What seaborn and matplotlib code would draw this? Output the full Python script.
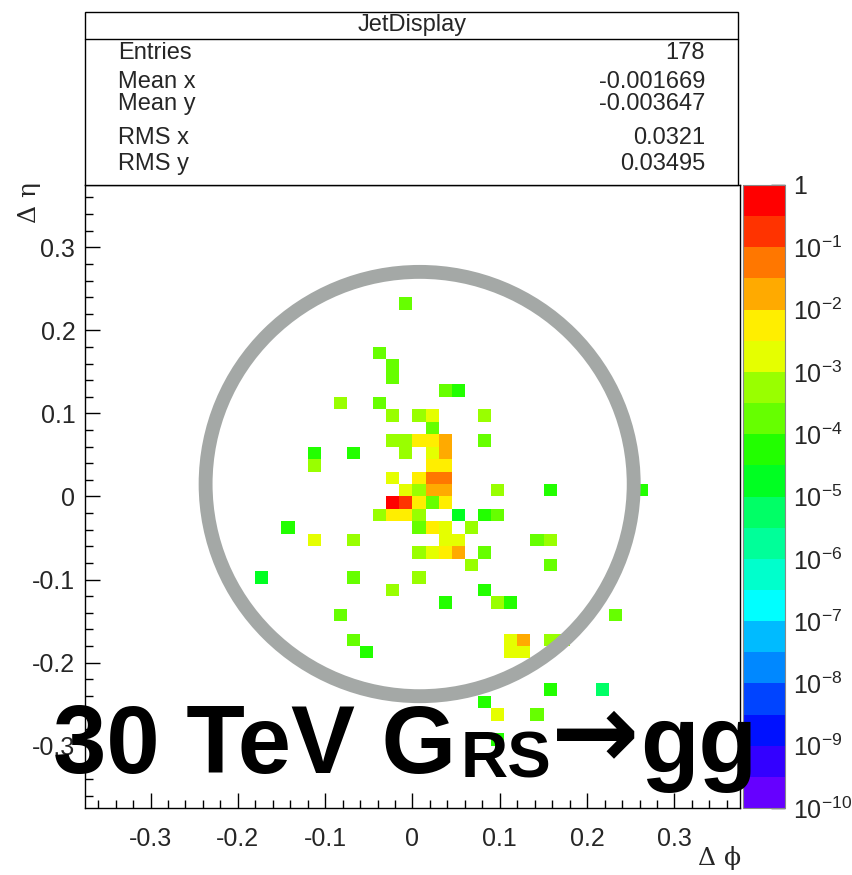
import numpy as np
import pandas as pd
import matplotlib
matplotlib.use("Agg")
import matplotlib.pyplot as plt
import seaborn as sns
from matplotlib.colors import ListedColormap
from matplotlib.patches import Ellipse, Rectangle
from matplotlib.lines import Line2D
from matplotlib.ticker import FixedLocator, FixedFormatter, MultipleLocator, LogLocator, NullFormatter

# ---------------- data ----------------
eta_rows = [0.2325, 0.1725, 0.1575, 0.1425, 0.1275, 0.1125, 0.0975, 0.0825, 0.0675,
            0.0525, 0.0375, 0.0225, 0.0075, -0.0075, -0.0225, -0.0375, -0.0525,
            -0.0675, -0.0825, -0.0975, -0.1125, -0.1275, -0.1425, -0.1725, -0.1875,
            -0.2325, -0.2475, -0.2625, -0.2925]

phi_by_row = [
    [-0.0075],
    [-0.0375],
    [-0.0225],
    [-0.0225],
    [0.0375, 0.0525],
    [-0.0825, -0.0375],
    [-0.0225, 0.0075, 0.0225, 0.0825],
    [0.0225],
    [-0.0225, -0.0075, 0.0075, 0.0225, 0.0375, 0.0825],
    [-0.1125, -0.0675, -0.0075, 0.0225, 0.0375],
    [-0.1125, 0.0225, 0.0375],
    [-0.0225, 0.0075, 0.0225, 0.0375],
    [-0.0075, 0.0075, 0.0225, 0.0375, 0.0975, 0.1575, 0.2625],
    [-0.0225, -0.0075, 0.0075, 0.0225, 0.0375],
    [-0.0375, -0.0225, -0.0075, 0.0075, 0.0525, 0.0825, 0.0975],
    [-0.1425, 0.0075, 0.0225, 0.0375, 0.0675],
    [-0.1125, -0.0675, 0.0375, 0.0525, 0.1425, 0.1575],
    [0.0075, 0.0225, 0.0375, 0.0525, 0.0825],
    [0.0675, 0.1575],
    [-0.1725, -0.0675, 0.0075],
    [-0.0225, 0.0825],
    [0.0375, 0.0975, 0.1125],
    [-0.0825, 0.2325],
    [-0.0675, 0.1125, 0.1275, 0.1575, 0.1725],
    [-0.0525, 0.1125, 0.1275],
    [0.1575, 0.2175],
    [0.0825],
    [0.0975, 0.1425],
    [0.0975],
]

frac_by_row = [
    [1.8e-4],
    [1.8e-4],
    [1.8e-4],
    [1.8e-4],
    [1.8e-4, 5.6e-5],
    [5.6e-4, 1.8e-4],
    [5.6e-4, 5.6e-4, 1.8e-3, 5.6e-4],
    [1.8e-4],
    [5.6e-4, 5.6e-4, 5.6e-3, 5.6e-3, 1.8e-2, 1.8e-4],
    [5.6e-5, 5.6e-5, 5.6e-4, 1.8e-3, 1.8e-2],
    [5.6e-4, 5.6e-3, 5.6e-3],
    [1.8e-3, 5.6e-3, 5.6e-2, 5.6e-2],
    [1.8e-3, 5.6e-4, 1.8e-2, 1.8e-2, 5.6e-4, 5.6e-5, 5.6e-5],
    [0.56, 0.18, 5.6e-3, 1.8e-4, 5.6e-3],
    [5.6e-4, 5.6e-3, 5.6e-3, 5.6e-4, 1.8e-5, 5.6e-5, 1.8e-4],
    [5.6e-5, 1.8e-4, 5.6e-3, 1.8e-3, 5.6e-4],
    [1.8e-3, 5.6e-4, 1.8e-3, 1.8e-3, 1.8e-4, 5.6e-4],
    [5.6e-4, 1.8e-3, 5.6e-3, 1.8e-2, 1.8e-4],
    [5.6e-4, 1.8e-4],
    [1.8e-5, 1.8e-4, 5.6e-4],
    [5.6e-4, 5.6e-5],
    [5.6e-5, 5.6e-4, 5.6e-5],
    [1.8e-4, 1.8e-4],
    [1.8e-4, 1.8e-3, 1.8e-2, 5.6e-4, 5.6e-4],
    [5.6e-5, 1.8e-3, 1.8e-3],
    [5.6e-5, 5.6e-6],
    [5.6e-5],
    [1.8e-3, 1.8e-4],
    [5.6e-5],
]

axis_ticks = [-0.3, -0.2, -0.1, 0.0, 0.1, 0.2, 0.3]
axis_tick_labels = ["-0.3", "-0.2", "-0.1", "0", "0.1", "0.2", "0.3"]
cbar_ticks = [1e0, 1e-1, 1e-2, 1e-3, 1e-4, 1e-5, 1e-6, 1e-7, 1e-8, 1e-9, 1e-10]
cbar_labels = ["1"] + [r"$10^{-%d}$" % k for k in range(1, 11)]

stats_names = ["Entries", "Mean x", "Mean y", "RMS x", "RMS y"]
stats_values = ["178", "-0.001669", "-0.003647", "0.0321", "0.03495"]

palette_colors = ["#ff0000", "#ff3300", "#ff7700", "#ffaa00", "#ffee00", "#e5ff00",
                  "#99ff00", "#66ff00", "#22ff00", "#00ff22", "#00ff66", "#00ff99",
                  "#00ffcc", "#00ffff", "#00bbff", "#0088ff", "#0044ff", "#0011ff",
                  "#3300ff", "#6600ff"][::-1]

# ---------------- table ----------------
rows = []
for eta, phis, fracs in zip(eta_rows, phi_by_row, frac_by_row):
    for p, f in zip(phis, fracs):
        rows.append({"dphi": p, "deta": eta, "frac": f})
df = pd.DataFrame(rows)

# ---------------- figure ----------------
sns.set_theme(style="ticks")
plt.rcParams["font.family"] = ["Liberation Sans", "DejaVu Sans"]
plt.rcParams["axes.unicode_minus"] = False
plt.rcParams["mathtext.fontset"] = "custom"
plt.rcParams["mathtext.rm"] = "Liberation Sans"
plt.rcParams["mathtext.it"] = "Liberation Sans:italic"
plt.rcParams["mathtext.bf"] = "Liberation Sans:bold"

W, H = 853, 875
fig = plt.figure(figsize=(W / 100, H / 100), dpi=100)
fig.patch.set_facecolor("white")

def fx(px):
    return px / W

def fy(py):
    return 1 - py / H

ax = fig.add_axes([fx(85), fy(808), fx(740) - fx(85), fy(185) - fy(808)])
cax = fig.add_axes([fx(743), fy(808), fx(785) - fx(743), fy(185) - fy(808)])

cmap = ListedColormap(palette_colors)
lim = (-0.375, 0.375)
sns.histplot(data=df, x="dphi", y="deta", weights="frac", bins=50,
             binrange=(lim, lim), cmap=cmap, norm="log", vmin=1e-10, vmax=1,
             cbar=True, cbar_ax=cax, ax=ax, zorder=1)

ax.set_xlim(lim)
ax.set_ylim(lim)
ax.set_xlabel("")
ax.set_ylabel("")
ax.set_facecolor("white")
for s in ax.spines.values():
    s.set_visible(True)
    s.set_color("black")
    s.set_linewidth(1.0)

ax.xaxis.set_major_locator(FixedLocator(axis_ticks))
ax.xaxis.set_major_formatter(FixedFormatter(axis_tick_labels))
ax.yaxis.set_major_locator(FixedLocator(axis_ticks))
ax.yaxis.set_major_formatter(FixedFormatter(axis_tick_labels))
ax.xaxis.set_minor_locator(MultipleLocator(0.02))
ax.yaxis.set_minor_locator(MultipleLocator(0.02))
ax.tick_params(which="both", direction="in", top=False, right=False, color="black", width=1.0)
ax.tick_params(which="major", length=11, labelsize=18)
ax.tick_params(which="minor", length=6)
ax.tick_params(axis="x", which="major", pad=14)
ax.tick_params(axis="y", which="major", pad=7)

# jet cone circle
ax.add_patch(Ellipse((0.0082, 0.015), width=2 * 0.2451, height=2 * 0.2554,
                     fill=False, ec="#a4a8a6", lw=10, zorder=3))

# colorbar
cbar = ax.collections[0].colorbar
cbar.set_ticks(cbar_ticks, labels=cbar_labels)
cax.yaxis.set_minor_locator(LogLocator(base=10, subs=np.arange(2, 10), numticks=200))
cax.yaxis.set_minor_formatter(NullFormatter())
cax.tick_params(which="both", direction="in", right=True, left=False, color="black", width=1.0)
cax.tick_params(which="major", length=10, labelsize=18, pad=6)
cax.tick_params(which="minor", length=5)
cbar.outline.set_linewidth(0.8)
cbar.outline.set_edgecolor("#888888")

# axis titles
fig.text(fx(30), fy(182), "Δ η", rotation=90, ha="center", va="top",
         fontsize=18, family=["DejaVu Serif"])
fig.text(fx(741), fy(858), "Δ ϕ", ha="right", va="center",
         fontsize=18, family=["DejaVu Serif"])

# stats box
fig.add_artist(Rectangle((fx(85), fy(185)), fx(738) - fx(85), fy(12) - fy(185),
                         transform=fig.transFigure, fc="white", ec="black", lw=1.0, zorder=5))
fig.add_artist(Line2D([fx(85), fx(738)], [fy(39), fy(39)], transform=fig.transFigure,
                      color="black", lw=1.0, zorder=6))
fig.text(fx(412), fy(25), "JetDisplay", ha="center", va="center", fontsize=17, zorder=7)
row_y = [53, 82, 104, 138, 164]
for name, val, yy in zip(stats_names, stats_values, row_y):
    fig.text(fx(118), fy(yy), name, ha="left", va="center", fontsize=17, zorder=7)
    fig.text(fx(705), fy(yy), val, ha="right", va="center", fontsize=17, zorder=7)

# big label
big = dict(weight="bold", color="black", zorder=10)
fig.text(fx(53), fy(773), "30 TeV G", ha="left", va="baseline", fontsize=69, **big)
fig.text(fx(461), fy(778), "RS", ha="left", va="baseline", fontsize=47, **big)
fig.text(fx(595), fy(738), "→", ha="center", va="center", fontsize=76,
         family=["DejaVu Sans"], **big)
fig.text(fx(640), fy(773), "gg", ha="left", va="baseline", fontsize=69, **big)

fig.savefig("out.png", dpi=100, facecolor="white")
